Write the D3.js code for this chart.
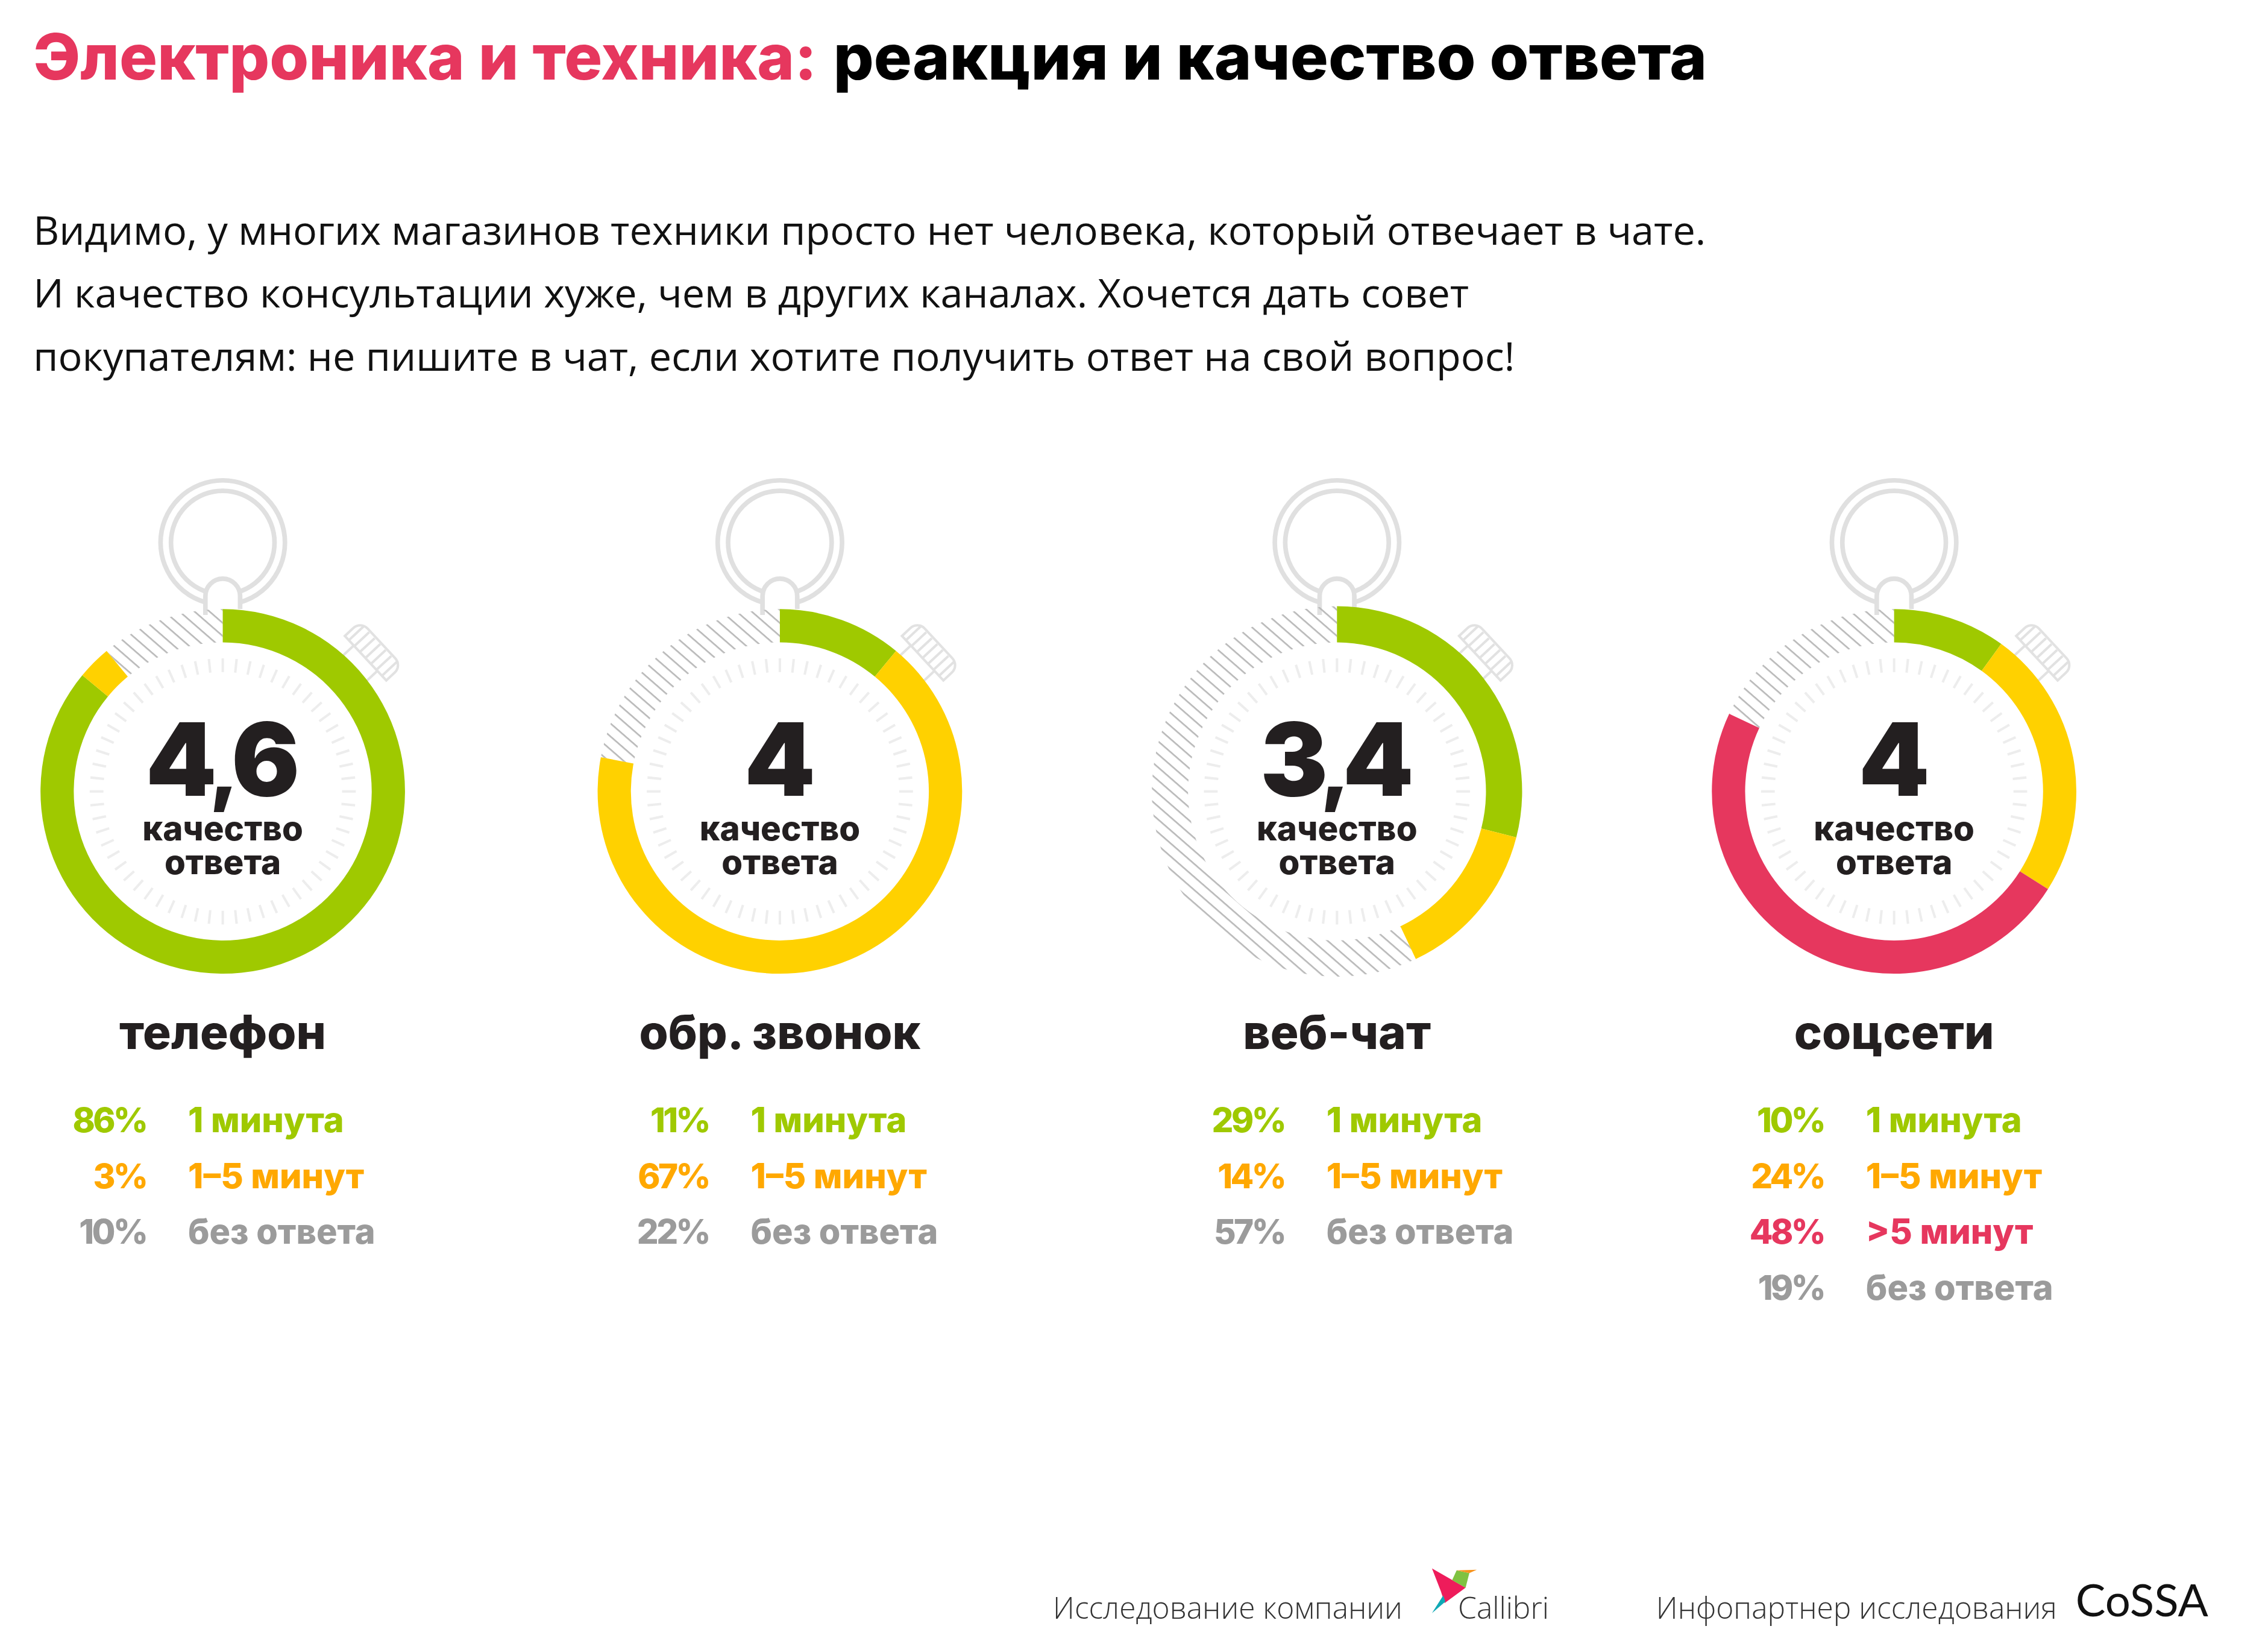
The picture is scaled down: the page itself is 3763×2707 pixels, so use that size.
<!DOCTYPE html>
<html><head><meta charset="utf-8">
<script src="https://cdn.jsdelivr.net/npm/d3@7"></script>
<style>html,body{margin:0;padding:0;background:#fff}svg{display:block}</style>
</head><body><div id="chart"></div>
<script>
const titleAccent = "Электроника и техника:";
const titleRest = "реакция и качество ответа";
const bodyLines = [
  "Видимо, у многих магазинов техники просто нет человека, который отвечает в чате.",
  "И качество консультации хуже, чем в других каналах. Хочется дать совет",
  "покупателям: не пишите в чат, если хотите получить ответ на свой вопрос!"
];
const channels = ["телефон", "обр. звонок", "веб-чат", "соцсети"];
const scores = ["4,6", "4", "3,4", "4"];
const seriesNames = ["1 минута", "1–5 минут", ">5 минут", "без ответа"];
const oneMinute = [86, 11, 29, 10];
const oneToFive = [3, 67, 14, 24];
const overFive = [0, 0, 0, 48];
const noAnswer = [10, 22, 57, 19];
const ringColors = ["#9FC900", "#FFD100", "#E6375E"];
const textColors = ["#9FC900", "#FFA800", "#E6375E", "#9B9B9B"];
const scoreWords = ["качество", "ответа"];
const footerLeft = "Исследование компании";
const footerBrand = "Callibri";
const footerRight = "Инфопартнер исследования";
const footerLogo = "CoSSA";

const W = 1568, H = W * 2707 / 3763;
const HEAD = "Inter, 'Noto Sans', sans-serif";
const BODY = "'Open Sans', sans-serif";
const INK = "#231F20";
const svg = d3.select("#chart").append("svg")
  .attr("width", 3763).attr("height", 2707).attr("viewBox", `0 0 ${W} ${H}`);

// hatch fill
const defs = svg.append("defs");
const pat = defs.append("pattern").attr("id", "hatch").attr("patternUnits", "userSpaceOnUse")
  .attr("width", 20).attr("height", 6.8).attr("patternTransform", "rotate(41)");
pat.append("rect").attr("width", 20).attr("height", 1.1).attr("fill", "#B9B9B9");

// title
const title = svg.append("text").attr("x", 23).attr("y", 55)
  .attr("font-family", HEAD).attr("font-weight", 800).attr("font-size", 43.8);
title.append("tspan").attr("fill", "#E6375E").text(titleAccent);
title.append("tspan").attr("fill", "#000").attr("dx", 11.5).text(titleRest);

// body
svg.append("g").selectAll("text").data(bodyLines).join("text")
  .attr("x", 23).attr("y", (d, i) => 169 + i * 43.7)
  .attr("font-family", BODY).attr("font-size", 27.75).attr("fill", "#111").text(d => d);

// layout scales
const cx = d3.scalePoint().domain(channels).range([154, 1309.5]);
const valueAngle = d3.scaleLinear().domain([0, 100]).range([0, 2 * Math.PI]);
const tickAngles = d3.range(60).map(i => i * 6);
const pctX = [101, 490, 888, 1261];
const labelX = [130, 519, 917, 1290];
const cy = 547;

channels.forEach((name, c) => {
  const g = svg.append("g").attr("transform", `translate(${cx(name)},${cy})`);
  const outer = name === "веб-чат" ? 128 : 126;
  const inner = 103;
  const vals = [oneMinute[c], oneToFive[c], overFive[c]];
  const total = d3.sum(vals);
  const pie = d3.pie().sort(null).value(d => d).startAngle(0).endAngle(valueAngle(total));
  const arc = d3.arc().innerRadius(inner).outerRadius(outer);

  // crown rings
  const crown = g.append("g").attr("fill", "none").attr("stroke", "#E0E0E0").attr("stroke-width", 3.2);
  crown.append("circle").attr("cy", -172).attr("r", 43);
  crown.append("circle").attr("cy", -172).attr("r", 35.8);
  // stem
  crown.append("path").attr("fill", "#fff")
    .attr("d", "M-12,-120 V-135 A12,12 0 0 1 12,-135 V-120 Z").attr("stroke", "none");
  crown.append("path").attr("d", "M-12,-122 V-135 A12,12 0 0 1 12,-135 V-126");

  // side button
  const btn = g.append("g").attr("transform", "rotate(47)").attr("fill", "none")
    .attr("stroke", "#E2E2E2").attr("stroke-width", 1.7);
  btn.append("path").attr("d", "M-21,-135 H21 V-143 A7,7 0 0 0 14,-150 H-14 A7,7 0 0 0 -21,-143 Z");
  btn.append("path").attr("d", "M-12,-135 V-124 M12,-135 V-124");
  btn.append("g").selectAll("line").data(d3.range(-17, 20, 5.6)).join("line")
    .attr("x1", d => d).attr("x2", d => d).attr("y1", -135).attr("y2", -149);

  // hatched remainder
  if (total < 100) {
    g.append("path").attr("fill", "url(#hatch)")
      .attr("d", arc({ startAngle: valueAngle(total), endAngle: 2 * Math.PI }));
  }

  // clock ticks
  g.append("g").selectAll("line").data(tickAngles).join("line")
    .attr("transform", d => `rotate(${d})`)
    .attr("y1", -92).attr("y2", -82.5).attr("stroke", "#EDEDED").attr("stroke-width", 1.7);

  // value arcs
  g.append("g").selectAll("path").data(pie(vals)).join("path")
    .attr("fill", (d, i) => ringColors[i]).attr("d", arc);

  // centre text: the comma is set smaller so that it stays clear of the words below
  const score = g.append("text").attr("text-anchor", "middle").attr("x", -2.5).attr("y", 3).attr("letter-spacing", -5)
    .attr("font-family", HEAD).attr("font-weight", 900).attr("font-size", 70)
    .attr("fill", INK);
  scores[c].split(/(,)/).forEach(part => {
    score.append("tspan").attr("font-size", part === "," ? 54 : 70).text(part);
  });
  g.append("g").selectAll("text").data(scoreWords).join("text")
    .attr("text-anchor", "middle").attr("y", (d, i) => 34 + i * 23)
    .attr("font-family", HEAD).attr("font-weight", 800).attr("font-size", 23.5)
    .attr("fill", INK).text(d => d);

  // channel name
  svg.append("text").attr("x", cx(name)).attr("y", 725).attr("text-anchor", "middle")
    .attr("font-family", HEAD).attr("font-weight", 800).attr("font-size", 32.5)
    .attr("fill", INK).text(name);

  // legend rows
  const rows = [oneMinute[c], oneToFive[c], overFive[c], noAnswer[c]]
    .map((v, i) => ({ v, i })).filter(d => d.v > 0);
  const rowG = svg.append("g").attr("font-family", HEAD).attr("font-weight", 800).attr("font-size", 24);
  rows.forEach((r, j) => {
    const y = 782.5 + j * 38.6;
    rowG.append("text").attr("x", pctX[c]).attr("y", y).attr("text-anchor", "end").attr("letter-spacing", -1.5)
      .attr("font-size", 23.5).attr("fill", textColors[r.i]).text(r.v + "%");
    rowG.append("text").attr("x", labelX[c]).attr("y", y)
      .attr("fill", textColors[r.i]).text(seriesNames[r.i]);
  });
});

// footer
const foot = svg.append("g").attr("font-family", BODY).attr("font-weight", 300).attr("font-size", 20.7).attr("fill", "#333");
foot.append("text").attr("x", 728).attr("y", 1119).text(footerLeft);
foot.append("text").attr("x", 1008).attr("y", 1119).text(footerBrand);
foot.append("text").attr("x", 1145).attr("y", 1119).text(footerRight);
svg.append("text").attr("x", 1435).attr("y", 1117)
  .attr("font-family", "Lato, sans-serif").attr("font-weight", 400).attr("font-size", 31).attr("fill", "#111")
  .text(footerLogo);

// bird mark
const bx = d3.scaleLinear().domain([513, 573]).range([990, 1021]);
const by = d3.scaleLinear().domain([62, 282]).range([1084, 1115]);
const bird = [
  { c: "#EE1C5B", p: [[513, 62], [558, 157], [530, 232], [525, 175]] },
  { c: "#0FA9B5", p: [[528, 195], [531, 225], [513, 282]] },
  { c: "#7FC241", p: [[546, 72], [563, 85], [558, 157], [540, 120]] },
  { c: "#F7941E", p: [[546, 72], [573, 69], [563, 85]] }
];
svg.append("g").selectAll("polygon").data(bird).join("polygon")
  .attr("fill", d => d.c).attr("points", d => d.p.map(q => [bx(q[0]), by(q[1])].join(",")).join(" "));
</script></body></html>
